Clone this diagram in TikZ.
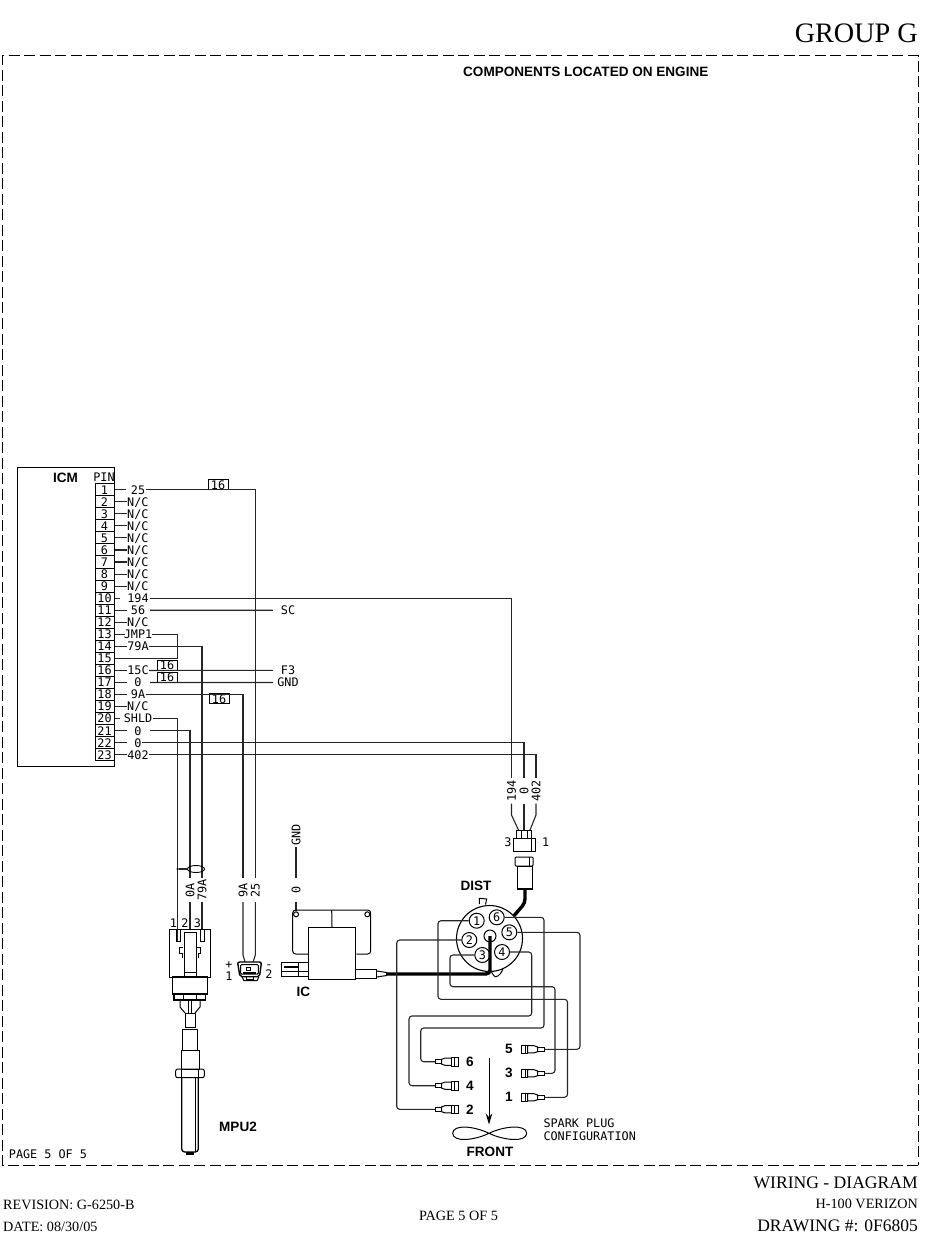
\documentclass[tikz,border=0pt]{standalone}
\usepackage{fontspec}
\setmainfont{Liberation Serif}
\setsansfont{Liberation Sans}
\setmonofont{DejaVu Sans Mono}
\usetikzlibrary{shapes.geometric,arrows.meta}
\newcommand{\nc}{N/C}
\tikzset{
    wire/.style={line width=1.1, black!85},
    harness/.style={line width=1.1, black!85, rounded corners=3},
    part/.style={line width=1, black},
    heavy/.style={line width=3.4, black, rounded corners=4},
    monotext/.style={font=\ttfamily\fontsize{11.8}{14}\selectfont, inner sep=0, text height=8.6, text depth=0},
    pinbox/.style={monotext, draw, line width=1, minimum width=19, minimum height=12.05},
    wlabel/.style={monotext, rotate=90, minimum width=24},
    tagbox/.style={monotext, draw, line width=0.9, minimum width=20, minimum height=9.8},
    term/.style={monotext, circle, draw, fill=white, line width=1, minimum size=15},
    boldtext/.style={font=\sffamily\bfseries\fontsize{13.55}{15}\selectfont, inner sep=0},
    serif/.style={font=\rmfamily\fontsize{14.2}{16}\selectfont, inner sep=0},
    pics/sparkplug/.style={code={
        \draw[part, fill=white] (0,-2.2) rectangle (6.5,2.2);
        \draw[part, fill=white] (6.5,-2.4) -- (10,-3.6) -- (16.5,-3.6) -- (16.5,3.6) -- (10,3.6) -- (6.5,2.4) -- cycle;
        \draw[part, fill=white] (16.5,-4.3) rectangle (23,4.3);
        \draw[part] (19,-4.3) -- (19,4.3);
    }},
}
\begin{document}
\begin{tikzpicture}[x=1pt, y=-1pt]
    \useasboundingbox (0,0) rectangle (950,1241);

    \draw[line width=1, dash pattern=on 11pt off 4.5pt] (918,1165) -- (2.5,1165) -- (2.5,56) -- (918,56) -- cycle;

    \node[font=\rmfamily\fontsize{28.2}{30}\selectfont, inner sep=0, anchor=base east] (title) at (918,42.7) {GROUP G};
    \node[boldtext, anchor=base west] (located) at (463,76.5) {COMPONENTS LOCATED ON ENGINE};
    \node[monotext, anchor=base west] (pageinner) at (8.7,1158.3) {PAGE 5 OF 5};
    \node[serif, anchor=base west] (revision) at (3,1209) {REVISION: G-6250-B};
    \node[serif, anchor=base west] (date) at (3,1231) {DATE: 08/30/05};
    \node[serif, anchor=base] (pageouter) at (458.5,1220) {PAGE 5 OF 5};
    \node[serif, font=\rmfamily\fontsize{17.6}{19}\selectfont, anchor=base east] (sheet) at (918,1188.3) {WIRING - DIAGRAM};
    \node[serif, anchor=base east] (model) at (918,1208.3) {H-100 VERIZON};
    \node[serif, font=\rmfamily\fontsize{17.5}{19}\selectfont, anchor=base east] (drawing) at (918,1231.5) {DRAWING \#: 0F6805};

    \node[draw, line width=1, minimum width=97, minimum height=299, inner sep=0] (icm) at (65.5,616.5) {};
    \node[boldtext] (icmname) at (65.5,478) {ICM};
    \node[monotext] (pinhead) at (104,477.3) {PIN};

    \foreach \i in {1,...,23} {
        \node[pinbox] (p\i) at (104.5,{489.7+12.05*(\i-1)}) {\i};
    }
    \foreach \i in {2,...,9,12,19} {
        \node[monotext, anchor=west] (w\i) at (127,{489.7+12.05*(\i-1)}) {\nc};
        \draw[wire] (p\i.east) -- (w\i.west);
    }
    \foreach \i/\t/\sx/\wx in {1/25/126/146, 10/194/120/149.5, 11/56/127/150, 13/JMP1/125/152, 14/79A/127/149,
        16/15C/127/149, 17/0/127/150, 18/9A/127/146, 20/SHLD/120/152.5, 21/0/127/150, 22/0/127/142, 23/402/127/149} {
        \node[monotext] (w\i) at (138,{489.7+12.05*(\i-1)}) {\t};
        \coordinate (a\i) at (\sx,{489.7+12.05*(\i-1)});
        \coordinate (b\i) at (\wx,{489.7+12.05*(\i-1)});
        \draw[wire] (p\i.east) -- (a\i);
    }

    \node[tagbox] (tag1) at (218,484.7) {16};
    \node[tagbox] (tag16) at (167,665.3) {16};
    \node[tagbox] (tag17) at (167,677.3) {16};
    \node[tagbox] (tag18) at (219,698.8) {16};

    \node[monotext, minimum width=30] (sc) at (288,610.2) {SC};
    \node[monotext, minimum width=30] (f3) at (288,670.4) {F3};
    \node[monotext, minimum width=30] (gndb) at (288,682.5) {GND};
    \draw[wire] (b11) -- (sc.west);
    \draw[wire] (b16) -- (f3.west);
    \draw[wire] (b17) -- (gndb.west);

    \node[wlabel] (d0A) at (190,890) {0A};
    \node[wlabel] (d79A) at (202,890) {79A};
    \node[wlabel] (d9A) at (243,890) {9A};
    \node[wlabel] (d25) at (255.3,890) {25};
    \node[wlabel] (dgnd) at (296,835) {GND};
    \node[wlabel] (dzero) at (296,890) {0};
    \node[wlabel, minimum width=25] (d194) at (511.5,791) {194};
    \node[wlabel, minimum width=25] (d0) at (524,791) {0};
    \node[wlabel, minimum width=25] (d402) at (536,791) {402};

    \coordinate (shldend) at (177.7,941);
    \coordinate (jmptop) at (177.7,634);
    \draw[wire] (b1) -| (d25.east);
    \draw[wire] (b10) -| (d194.east);
    \draw[wire] (b13) -| (jmptop |- p15.east) -- (p15.east);
    \draw[wire] (b14) -| (d79A.east);
    \draw[wire] (b18) -| (d9A.east);
    \draw[wire] (b20) -| (shldend);
    \draw[wire] (b21) -| (d0A.east);
    \draw[wire] (b22) -| (d0.east);
    \draw[wire] (b23) -| (d402.east);

    \node[draw, ellipse, line width=0.9, minimum width=17, minimum height=7, inner sep=0] (shield) at (196,869) {};
    \node[circle, fill, inner sep=0, minimum size=2.5] (shielddot) at (177.7,869) {};
    \draw[wire] (shielddot) -- (shield);

    \draw[part] (169.3,929) rectangle (210.3,977);
    \draw[part] (184,977) -- (184,932.7) -- (196,932.7) -- (196,977);
    \draw[part] (184,972.7) -- (196,972.7);
    \draw[part] (176.5,929) rectangle (180,941);
    \draw[part] (200,929) rectangle (204,941);
    \draw[part] (183.3,947) -- (179.5,947) -- (179.5,953) -- (182,953) -- (182,957.7);
    \draw[part] (196.5,947) -- (200.5,947) -- (200.5,953) -- (198,953) -- (198,957.7);
    \draw[wire] (d0A.west) -- (190,929);
    \draw[wire] (d79A.west) -- (202,929);
    \node[monotext] (m1) at (173.3,923) {1};
    \node[monotext] (m2) at (185,923) {2};
    \node[monotext] (m3) at (197.3,923) {3};
    \draw[part, line width=1.2] (172.7,977) rectangle (207.3,994);
    \draw[part, line width=1.2] (174,994) rectangle (205.7,1000);
    \draw[part] (183.3,994) -- (183.3,1000) (196,994) -- (196,1000);
    \draw[part] (180,1000) -- (180,1007) -- (185,1013) (200,1000) -- (200,1007) -- (195,1013);
    \draw[part] (188.5,1000) -- (188.5,1013) (191,1000) -- (191,1013);
    \draw[part] (185,1013) rectangle (195,1027);
    \draw[part] (182.7,1029.3) rectangle (197.3,1050);
    \draw[part, line width=1.6] (182.7,1029.3) -- (197.3,1029.3);
    \draw[part] (181,1050) rectangle (199,1069);
    \draw[part, rounded corners=2] (175.7,1069) rectangle (204.3,1077.7);
    \draw[part] (181.7,1069) -- (181.7,1077.7) (198.3,1069) -- (198.3,1077.7);
    \draw[part, line width=1.3, rounded corners=3] (181.7,1077.7) -- (181.7,1152) -- (198.3,1152) -- (198.3,1077.7);
    \draw[part] (195.7,1077.7) -- (195.7,1152);
    \fill (186,1152) rectangle (193.5,1155);
    \node[boldtext] (mpu) at (238,1126.7) {MPU2};

    \coordinate (sensl) at (245,961.7);
    \coordinate (sensr) at (253.3,961.7);
    \draw[wire] (d9A.west) -- (243,955) -- (sensl);
    \draw[wire] (d25.west) -- (255.3,955) -- (sensr);
    \draw[part, line width=1.4, rounded corners=2] (237.5,962) -- (261.5,962) -- (259.5,976.7) -- (240,976.7) -- cycle;
    \draw[part, rounded corners=1] (240.7,964.5) rectangle (258.3,974);
    \draw[part] (246.7,967) -- (250.7,967) -- (250.7,970) -- (246.7,970) -- cycle;
    \draw[part, line width=1.6] (243,972.8) -- (256,972.8);
    \draw[part] (242,976.7) -- (244,980.7) -- (257,980.7) -- (259,976.7);
    \draw[part] (246,976.7) -- (246,979) -- (253,979) -- (253,976.7);
    \node[monotext] (splus) at (229,964.3) {+};
    \node[monotext] (sone) at (229,975.7) {1};
    \node[monotext] (sminus) at (269,964.3) {-};
    \node[monotext] (stwo) at (269,974.3) {2};

    \node[circle, draw, line width=1, minimum size=5, inner sep=0] (ringl) at (296,914.3) {};
    \node[circle, draw, line width=1, minimum size=5, inner sep=0] (ringr) at (367.3,914.3) {};
    \draw[wire] (dgnd.west) -- (dzero.east);
    \draw[wire] (dzero.west) -- (ringl);
    \node[draw, line width=1.1, minimum width=47.4, minimum height=52, inner sep=0] (ic) at (332,953.3) {};
    \draw[part, rounded corners=3] (ic.west |- 0,954) -- (292.7,954) -- (292.7,910) -- (370.7,910) -- (370.7,954) -- (ic.east |- 0,954);
    \draw[part] (331.7,910) -- (ic.north);
    \draw[part] (281.7,962.7) rectangle (298.5,976.7);
    \draw[part] (298.5,962.7) -- (ic.west |- 0,962.7);
    \draw[part] (298.5,976.7) -- (ic.west |- 0,976.7);
    \draw[part, line width=2] (284,967.3) -- (298.5,967.3);
    \draw[part] (281.7,971.5) -- (ic.west |- 0,971.5);
    \draw[part] (ic.east |- 0,969.3) -- (376.7,969.3) -- (376.7,978.3) -- (ic.east |- 0,978.3);
    \draw[part] (376.7,971) -- (386.7,972.5) -- (386.7,975.5) -- (376.7,977);
    \node[boldtext] (icname) at (303.3,992.3) {IC};

    \draw[part] (516.7,830) rectangle (531.7,838);
    \draw[part] (521.5,830) -- (521.5,838) (527,830) -- (527,838);
    \draw[part] (513.3,838) rectangle (535,851);
    \draw[part] (531,838) -- (531,851);
    \draw[wire] (d194.west) -- (511.5,815) -- (518.5,830);
    \draw[wire] (d0.west) -- (524,830);
    \draw[wire] (d402.west) -- (536,815) -- (530,830);
    \node[monotext] (cthree) at (508,841.7) {3};
    \node[monotext] (cone) at (545.7,841.7) {1};
    \draw[part, rounded corners=1] (515,866) -- (515,857) -- (533,857) -- (533,866) -- cycle;
    \draw[part] (529.5,857) -- (529.5,866);
    \draw[part] (517,866) rectangle (532,889);
    \draw[part, line width=1.8] (517,889) -- (532,889);

    \node[boldtext] (distname) at (476,885.7) {DIST};
    \draw[part] (479.3,904) -- (479.3,898.3) -- (486.7,899) -- (485.5,904.5);
    \draw[part] (490,969.3) .. controls (492,973) and (494,976.7) .. (495.5,976.7) .. controls (499,976.7) and (502,972) .. (503.3,968);
    \node[circle, draw, line width=1.1, minimum size=66, inner sep=0] (dist) at (489.5,938.5) {};
    \coordinate (plugout) at (525,889);
    \draw[heavy] (plugout) -- (525,903) -- (dist.43);

    \node[term] (t1) at (476.7,920.7) {1};
    \node[term] (t6) at (496.7,917.3) {6};
    \node[term] (t5) at (509.3,932.3) {5};
    \node[term] (t4) at (502,952) {4};
    \node[term] (t3) at (482.3,955) {3};
    \node[term] (t2) at (469.3,940) {2};
    \node[circle, draw, line width=1, minimum size=12, inner sep=0] (tc) at (490,936) {};
    \coordinate (iclead) at (386.7,974);
    \draw[heavy] (tc.center) -- (490,974) -- (iclead);

    \coordinate (s6) at (435,1061.7);
    \coordinate (s4) at (435,1085.7);
    \coordinate (s2) at (435,1109.3);
    \coordinate (s5) at (544,1049.3);
    \coordinate (s3) at (544,1073.3);
    \coordinate (s1) at (544,1097.3);
    \foreach \n in {6,4,2} {
        \pic at (s\n) {sparkplug};
    }
    \foreach \n in {5,3,1} {
        \pic[xscale=-1] at (s\n) {sparkplug};
    }
    \node[boldtext] (n6) at (470,1061.7) {6};
    \node[boldtext] (n4) at (470,1085.7) {4};
    \node[boldtext] (n2) at (470,1109.3) {2};
    \node[boldtext] (n5) at (509,1049.3) {5};
    \node[boldtext] (n3) at (509,1073.3) {3};
    \node[boldtext] (n1) at (509,1097.3) {1};

    \draw[harness] (t1.west) -- (438,920.7) -- (438,999.3) -- (567.5,999.3) -- (567.5,1097.3) -- (s1);
    \draw[harness] (t6.east) -- (544,917.3) -- (544,1028) -- (420.7,1028) -- (420.7,1061.7) -- (s6);
    \draw[harness] (t5.east) -- (580,932.3) -- (580,1049.3) -- (s5);
    \draw[harness] (t4.east) -- (531.7,952) -- (531.7,1016) -- (409,1016) -- (409,1085.7) -- (s4);
    \draw[harness] (t3.west) -- (450,955) -- (450,986.7) -- (555,986.7) -- (555,1073.3) -- (s3);
    \draw[harness] (t2.west) -- (396.7,940) -- (396.7,1109.3) -- (s2);

    \coordinate (arrowtop) at (489,1057.7);
    \coordinate (fanmid) at (489,1133.3);
    \draw[line width=1, -{Stealth[length=11pt, width=6.5pt]}] (arrowtop) -- (489,1124.5);
    \draw[line width=1] (fanmid) .. controls (474,1126) and (453,1124) .. (452.7,1133.3)
        .. controls (453,1142.5) and (474,1140.5) .. (fanmid)
        .. controls (504,1126) and (526.3,1124) .. (526.7,1133.3)
        .. controls (526.3,1142.5) and (504,1140.5) .. (fanmid);
    \node[boldtext] (front) at (490,1151.7) {FRONT};
    \node[monotext, anchor=west] (spark) at (543.3,1123.3) {SPARK PLUG};
    \node[monotext, anchor=west] (config) at (543.3,1135.7) {CONFIGURATION};
\end{tikzpicture}
\end{document}
